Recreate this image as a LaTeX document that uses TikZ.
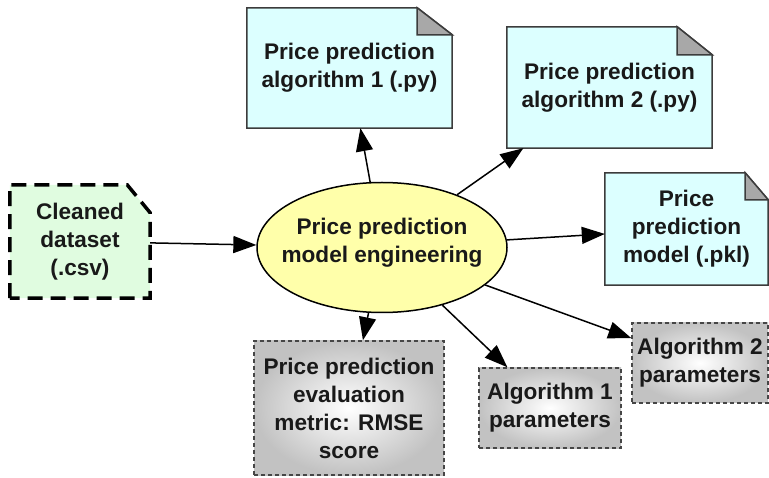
\documentclass[tikz,border=0pt]{standalone}
\usepackage{fontspec}
\setmainfont{Liberation Sans}
\usetikzlibrary{arrows.meta,shapes.geometric}
\definecolor{notefill}{RGB}{220,255,255}
\definecolor{foldfill}{RGB}{168,168,168}
\definecolor{cleanfill}{RGB}{224,252,224}
\definecolor{ellfill}{RGB}{255,255,170}
\definecolor{edge}{RGB}{60,60,60}
\definecolor{paramedge}{RGB}{70,70,70}
\pgfdeclarelayer{bg}
\pgfsetlayers{bg,main}
\tikzset{
  lbl/.style={align=center, font=\fontsize{22.6}{28}\selectfont\bfseries, inner sep=0pt, text=black!90},
  box/.style={lbl, rectangle},
  notebox/.style={fill=notefill, draw=edge, line width=1.5pt, line join=miter},
  foldtri/.style={fill=foldfill, draw=edge, line width=1.5pt},
  cleanbox/.style={fill=cleanfill, draw=black, line width=3.5pt, dash pattern=on 15pt off 8pt},
  parbox/.style={box, draw=paramedge, line width=1.5pt, dash pattern=on 4pt off 3pt, inner color=white, outer color=black!24},
  ellnode/.style={ellipse, draw=black, line width=1.5pt, fill=ellfill, inner sep=0pt},
  arr/.style={draw=black, line width=1.5pt, -{Triangle[length=23pt,width=17pt]}},
}
\begin{document}
\begin{tikzpicture}[x=1pt,y=-1pt]
\useasboundingbox (0,0) rectangle (769,478);

\node[box, minimum width=140pt, minimum height=113pt] (clean) at (80,241.5) {Cleaned\\dataset\\(.csv)};
\node[box, minimum width=205pt, minimum height=120pt] (alg1) at (349.5,68) {Price prediction\\algorithm 1 (.py)};
\node[box, minimum width=205pt, minimum height=121pt] (alg2) at (609.5,87.5) {Price prediction\\algorithm 2 (.py)};
\node[box, minimum width=163pt, minimum height=112pt] (model) at (686.5,229) {Price\\prediction\\model (.pkl)};
\node[ellnode, minimum width=250pt, minimum height=130pt] (ell) at (382,247.5) {};
\node[lbl] (elltext) at (382,243) {Price prediction\\model engineering};
\node[parbox, minimum width=190pt, minimum height=134pt] (eval) at (349,408) {Price prediction\\evaluation\\metric: RMSE\\score};
\node[parbox, minimum width=142pt, minimum height=80pt] (p1) at (550,408) {Algorithm 1\\parameters};
\node[parbox, minimum width=136pt, minimum height=80pt] (p2) at (700,363) {Algorithm 2\\parameters};

\begin{pgfonlayer}{bg}
  \path[cleanbox] (clean.south west) -- (clean.north west) -- ([xshift=-23pt]clean.north east) -- ([yshift=-28pt]clean.north east) -- (clean.south east) -- cycle;
  \foreach \n/\fx/\fy in {alg1/35/27, alg2/35/28, model/23/27}{
    \path[notebox] (\n.south west) -- (\n.north west) -- ([xshift=-\fx pt]\n.north east) -- ([yshift=-\fy pt]\n.north east) -- (\n.south east) -- cycle;
    \path[foldtri] ([xshift=-\fx pt]\n.north east) -- ([xshift=-\fx pt,yshift=-\fy pt]\n.north east) -- ([yshift=-\fy pt]\n.north east) -- cycle;
  }
\end{pgfonlayer}

\draw[arr] (clean) -- (ell);
\draw[arr] (ell) -- (alg1);
\draw[arr] (ell) -- (alg2);
\draw[arr] (ell) -- (model);
\draw[arr] (ell) -- (eval);
\draw[arr] (ell) -- (p1);
\draw[arr] (ell) -- (p2);
\end{tikzpicture}
\end{document}
